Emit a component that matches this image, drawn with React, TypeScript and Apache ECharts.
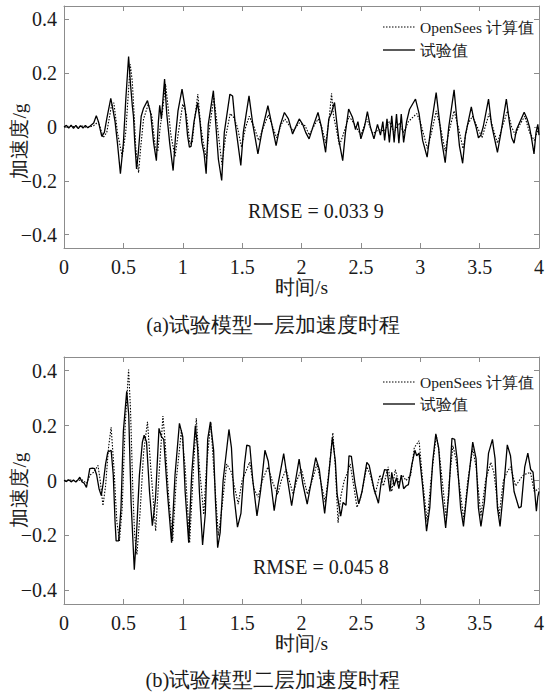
import React, { useEffect, useRef } from "react";
import * as echarts from "echarts";

// ---------- data (time s, acceleration g) ----------
const seriesNames = ["OpenSees 计算值", "试验值"];
const xTicks = [0, 0.5, 1, 1.5, 2, 2.5, 3, 3.5, 4];
const yTicks = [-0.4, -0.2, 0, 0.2, 0.4];
const rmseTexts = ["RMSE = 0.033 9", "RMSE = 0.045 8"];
const captions = ["(a)试验模型一层加速度时程", "(b)试验模型二层加速度时程"];

const floor1Test: number[][] = [
  [0, 0.0], [0.02, 0.006], [0.04, -0.004], [0.06, 0.007], [0.08, -0.005], [0.1, 0.006], [0.12, -0.006],
  [0.14, 0.005], [0.16, -0.004], [0.18, 0.006], [0.2, -0.003], [0.22, 0.004], [0.25, 0.015], [0.272, 0.042],
  [0.29, 0.02], [0.318, -0.035], [0.34, -0.02], [0.36, 0.03], [0.394, 0.106], [0.41, 0.07], [0.43, 0.02],
  [0.45, -0.06], [0.475, -0.174], [0.5, -0.06], [0.52, 0.1], [0.544, 0.262], [0.56, 0.16], [0.575, 0.08],
  [0.585, 0.04], [0.595, -0.05], [0.611, -0.156], [0.625, -0.1], [0.65, 0.04], [0.67, 0.07], [0.703, 0.098],
  [0.73, 0.05], [0.755, -0.06], [0.778, -0.125], [0.795, 0.02], [0.806, 0.081], [0.82, 0.03], [0.847, 0.178],
  [0.865, 0.05], [0.89, -0.06], [0.919, -0.162], [0.94, -0.03], [0.96, 0.06], [0.994, 0.141], [1.02, 0.07],
  [1.04, -0.03], [1.056, -0.075], [1.07, -0.072], [1.095, 0.02], [1.125, 0.091], [1.145, 0.02], [1.161, -0.057],
  [1.18, -0.1], [1.197, -0.174], [1.215, 0.01], [1.258, 0.135], [1.28, 0.0], [1.3, -0.12], [1.328, -0.199],
  [1.35, -0.02], [1.397, 0.122], [1.42, 0.115], [1.44, 0.02], [1.489, -0.143], [1.51, -0.02], [1.558, 0.116],
  [1.59, 0.01], [1.633, -0.1], [1.67, -0.01], [1.717, 0.079], [1.745, 0.02], [1.786, -0.069], [1.82, 0.005],
  [1.856, 0.054], [1.89, 0.03], [1.925, -0.026], [1.955, 0.005], [1.981, 0.03], [2.01, 0.01], [2.035, -0.02],
  [2.064, -0.044], [2.1, 0.005], [2.139, 0.054], [2.165, 0.005], [2.203, -0.094], [2.23, 0.03], [2.25, 0.05],
  [2.278, 0.091], [2.3, 0.005], [2.315, -0.05], [2.347, -0.125], [2.37, -0.02], [2.397, 0.067], [2.43, 0.035],
  [2.455, -0.01], [2.475, 0.02], [2.5, -0.044], [2.53, 0.0], [2.555, 0.057], [2.58, 0.0], [2.61, -0.044],
  [2.64, 0.01], [2.665, -0.03], [2.685, 0.02], [2.7, -0.05], [2.72, 0.03], [2.74, -0.057], [2.76, 0.042],
  [2.78, -0.057], [2.8, 0.048], [2.82, -0.06], [2.84, 0.048], [2.86, -0.057], [2.885, 0.02], [2.91, 0.066],
  [2.96, 0.104], [2.99, 0.05], [3.02, -0.05], [3.058, -0.112], [3.09, 0.0], [3.134, 0.128], [3.16, 0.03],
  [3.18, -0.05], [3.21, -0.133], [3.24, 0.0], [3.285, 0.138], [3.31, 0.02], [3.33, -0.07], [3.357, -0.135],
  [3.38, -0.03], [3.43, 0.075], [3.45, 0.03], [3.47, 0.0], [3.49, -0.04], [3.51, -0.03], [3.53, 0.0],
  [3.575, 0.104], [3.6, 0.01], [3.65, -0.094], [3.68, -0.02], [3.725, 0.104], [3.75, 0.02], [3.77, -0.04],
  [3.79, -0.06], [3.81, -0.01], [3.85, 0.03], [3.875, 0.055], [3.9, 0.03], [3.92, 0.0], [3.94, -0.05],
  [3.958, -0.1], [3.975, -0.02], [3.99, 0.01], [4.0, -0.03],
];

const floor1Sim: number[][] = [
  [0, 0.0], [0.05, 0.003], [0.1, 0.0], [0.15, 0.004], [0.2, -0.002], [0.25, 0.005], [0.29, 0.02], [0.33, -0.04],
  [0.36, -0.02], [0.4, 0.08], [0.42, 0.09], [0.45, -0.02], [0.49, -0.11], [0.52, -0.02], [0.558, 0.233],
  [0.575, 0.17], [0.59, 0.05], [0.605, -0.08], [0.628, -0.17], [0.645, -0.08], [0.67, 0.03], [0.71, 0.085],
  [0.74, 0.04], [0.77, -0.08], [0.79, -0.09], [0.81, 0.0], [0.83, 0.06], [0.855, 0.16], [0.875, 0.08],
  [0.9, -0.03], [0.935, -0.11], [0.96, -0.03], [1.0, 0.085], [1.03, 0.05], [1.06, -0.06], [1.08, -0.06],
  [1.1, 0.03], [1.127, 0.122], [1.15, 0.01], [1.17, -0.05], [1.2, -0.12], [1.22, -0.02], [1.262, 0.11],
  [1.29, 0.01], [1.33, -0.14], [1.36, -0.04], [1.4, 0.05], [1.43, 0.035], [1.46, 0.0], [1.495, -0.075],
  [1.53, 0.0], [1.56, 0.04], [1.6, 0.0], [1.64, -0.05], [1.68, 0.0], [1.72, 0.045], [1.75, 0.01], [1.79, -0.04],
  [1.83, 0.01], [1.86, 0.03], [1.89, 0.01], [1.93, -0.015], [1.98, 0.015], [2.03, 0.005], [2.065, -0.03],
  [2.1, 0.0], [2.14, 0.03], [2.17, 0.0], [2.205, -0.06], [2.235, 0.04], [2.253, 0.125], [2.27, 0.04],
  [2.29, 0.0], [2.319, -0.069], [2.35, -0.03], [2.4, 0.04], [2.44, 0.015], [2.5, -0.03], [2.55, 0.03],
  [2.6, -0.025], [2.65, -0.01], [2.7, -0.015], [2.74, 0.02], [2.78, -0.02], [2.82, 0.015], [2.86, -0.02],
  [2.9, 0.02], [2.97, 0.05], [3.0, 0.02], [3.06, -0.08], [3.09, -0.03], [3.135, 0.06], [3.17, 0.0],
  [3.21, -0.09], [3.24, -0.02], [3.285, 0.06], [3.32, 0.0], [3.36, -0.08], [3.4, 0.01], [3.44, 0.04],
  [3.48, 0.0], [3.52, -0.04], [3.58, 0.05], [3.61, 0.0], [3.65, -0.06], [3.69, 0.0], [3.735, 0.06],
  [3.77, 0.0], [3.8, -0.03], [3.84, 0.01], [3.88, 0.04], [3.92, -0.02], [3.96, -0.05], [4.0, 0.0],
];

const floor2Test: number[][] = [
  [0, 0.0], [0.02, -0.004], [0.04, 0.003], [0.06, -0.005], [0.08, 0.002], [0.1, -0.006], [0.12, 0.004],
  [0.133, 0.012], [0.15, -0.004], [0.17, -0.01], [0.189, -0.025], [0.2, 0.0], [0.217, 0.043], [0.24, 0.045],
  [0.258, 0.043], [0.275, 0.02], [0.295, -0.03], [0.314, -0.055], [0.33, -0.01], [0.35, 0.06], [0.369, 0.104],
  [0.397, 0.11], [0.415, 0.02], [0.43, -0.15], [0.439, -0.22], [0.46, -0.22], [0.48, -0.1], [0.5, 0.18],
  [0.528, 0.325], [0.545, 0.24], [0.565, -0.08], [0.592, -0.325], [0.61, -0.2], [0.635, 0.02], [0.66, 0.14],
  [0.675, 0.165], [0.695, 0.14], [0.72, -0.04], [0.744, -0.165], [0.77, -0.07], [0.8, 0.19], [0.82, 0.16],
  [0.84, 0.15], [0.87, -0.04], [0.906, -0.227], [0.935, 0.02], [0.972, 0.208], [1.0, 0.16], [1.02, -0.04],
  [1.05, -0.227], [1.075, 0.02], [1.106, 0.199], [1.125, 0.12], [1.14, -0.04], [1.167, -0.235], [1.19, -0.12],
  [1.21, 0.15], [1.233, 0.214], [1.26, 0.11], [1.275, -0.07], [1.294, -0.245], [1.315, -0.19], [1.34, 0.0],
  [1.389, 0.186], [1.41, 0.12], [1.43, -0.05], [1.461, -0.17], [1.49, -0.12], [1.52, 0.06], [1.539, 0.129],
  [1.565, 0.125], [1.59, 0.0], [1.625, -0.129], [1.655, -0.04], [1.692, 0.11], [1.72, 0.07], [1.77, -0.11],
  [1.8, -0.02], [1.85, 0.098], [1.88, 0.01], [1.917, -0.092], [1.95, 0.0], [1.98, 0.078], [2.01, -0.01],
  [2.048, -0.086], [2.08, -0.01], [2.12, 0.083], [2.15, 0.04], [2.195, -0.12], [2.225, 0.0], [2.26, 0.157],
  [2.285, 0.07], [2.3, -0.05], [2.33, -0.13], [2.35, -0.08], [2.375, -0.09], [2.4, 0.09], [2.42, 0.088],
  [2.45, -0.01], [2.482, -0.085], [2.51, -0.04], [2.55, 0.066], [2.57, 0.055], [2.61, -0.03], [2.648, -0.083],
  [2.67, -0.01], [2.7, 0.04], [2.72, 0.038], [2.745, -0.04], [2.76, 0.03], [2.78, -0.02], [2.8, 0.01],
  [2.82, -0.03], [2.84, 0.02], [2.86, -0.03], [2.88, -0.02], [2.9, -0.015], [2.93, 0.06], [2.955, 0.11],
  [2.97, 0.09], [2.99, 0.1], [3.02, -0.02], [3.053, -0.185], [3.08, -0.1], [3.105, 0.07], [3.131, 0.17],
  [3.155, 0.12], [3.18, -0.04], [3.214, -0.173], [3.24, -0.05], [3.267, 0.154], [3.29, 0.15], [3.31, 0.08],
  [3.34, -0.1], [3.364, -0.167], [3.39, -0.06], [3.442, 0.14], [3.47, 0.08], [3.49, -0.1], [3.511, -0.167],
  [3.54, -0.08], [3.575, 0.1], [3.608, 0.15], [3.63, 0.08], [3.65, -0.1], [3.672, -0.167], [3.7, -0.04],
  [3.733, 0.13], [3.76, 0.09], [3.79, -0.04], [3.831, -0.1], [3.85, -0.095], [3.88, 0.05], [3.906, 0.1],
  [3.93, 0.04], [3.95, 0.03], [3.978, -0.112], [3.99, -0.06], [4.0, -0.04],
];

const floor2Sim: number[][] = [
  [0, 0.0], [0.05, 0.002], [0.1, -0.002], [0.15, 0.003], [0.19, -0.01], [0.22, 0.02], [0.25, 0.03],
  [0.286, 0.055], [0.305, 0.0], [0.328, -0.092], [0.35, -0.02], [0.375, 0.12], [0.397, 0.194], [0.42, 0.05],
  [0.445, -0.15], [0.467, -0.22], [0.49, -0.1], [0.515, 0.2], [0.544, 0.404], [0.56, 0.26], [0.58, -0.04],
  [0.595, -0.2], [0.614, -0.27], [0.64, -0.12], [0.67, 0.1], [0.703, 0.214], [0.73, 0.05], [0.772, -0.184],
  [0.8, 0.02], [0.833, 0.235], [0.85, 0.15], [0.88, -0.05], [0.915, -0.22], [0.945, 0.0], [0.989, 0.184],
  [1.02, 0.05], [1.058, -0.227], [1.085, 0.0], [1.114, 0.227], [1.14, 0.05], [1.177, -0.124], [1.2, 0.05],
  [1.236, 0.213], [1.26, 0.05], [1.3, -0.2], [1.33, -0.1], [1.37, 0.06], [1.41, 0.03], [1.467, -0.086],
  [1.5, 0.0], [1.564, 0.067], [1.6, -0.03], [1.635, -0.061], [1.67, 0.0], [1.717, 0.049], [1.76, -0.01],
  [1.8, -0.05], [1.83, 0.0], [1.87, 0.04], [1.91, -0.02], [1.93, -0.05], [1.96, 0.0], [2.0, 0.04],
  [2.05, -0.05], [2.09, 0.0], [2.13, 0.06], [2.17, -0.02], [2.2, -0.08], [2.235, 0.05], [2.264, 0.174],
  [2.285, 0.05], [2.308, -0.154], [2.33, -0.06], [2.36, 0.0], [2.383, 0.025], [2.41, 0.06], [2.44, -0.02],
  [2.467, -0.098], [2.5, -0.06], [2.55, 0.05], [2.58, 0.02], [2.62, -0.05], [2.66, 0.02], [2.69, -0.02],
  [2.73, 0.05], [2.76, -0.04], [2.79, 0.04], [2.82, -0.01], [2.85, 0.02], [2.88, 0.0], [2.92, 0.02],
  [2.95, 0.12], [2.99, 0.145], [3.02, 0.0], [3.058, -0.15], [3.09, 0.0], [3.135, 0.165], [3.16, 0.1],
  [3.22, -0.142], [3.245, 0.0], [3.275, 0.127], [3.3, 0.08], [3.367, -0.142], [3.4, 0.0], [3.442, 0.115],
  [3.47, 0.05], [3.511, -0.13], [3.55, 0.0], [3.594, 0.066], [3.62, 0.03], [3.664, -0.13], [3.7, 0.0],
  [3.73, 0.03], [3.76, 0.05], [3.803, -0.02], [3.85, 0.01], [3.87, 0.02], [3.928, 0.03], [3.96, -0.04],
  [4.0, -0.03],
];

// ---------- styling ----------
const FONT = "Times New Roman, Liberation Serif, serif";
const AXIS_GRAY = "#8c8c8c";
const TEXT = "#1a1a1a";

const grids = [
  { left: 64, top: 6, width: 480, height: 242 },
  { left: 64, top: 357, width: 480, height: 247 },
];

function fmtY(v: number) {
  const r = Math.round(v * 10) / 10;
  if (r === 0) return "0";
  return r < 0 ? "\u2212" + String(Math.abs(r)) : String(r);
}

export default function App() {
  const ref = useRef<HTMLDivElement>(null);
  useEffect(() => {
    if (!ref.current) return;
    const chart = echarts.init(ref.current, undefined, { renderer: "svg" });

    const xAxes: any[] = [];
    const yAxes: any[] = [];
    grids.forEach((_, gi) => {
      const baseX = {
        type: "value",
        gridIndex: gi,
        min: 0,
        max: 4,
        interval: 0.5,
        splitLine: { show: false },
        axisLine: { onZero: false, lineStyle: { color: AXIS_GRAY, width: 1 } },
        axisTick: { inside: true, length: 5, lineStyle: { color: AXIS_GRAY } },
      };
      xAxes.push({
        ...baseX,
        position: "bottom",
        name: "时间/s",
        nameLocation: "middle",
        nameGap: 29,
        nameTextStyle: { fontFamily: FONT, fontSize: 19.5, color: TEXT },
        axisLabel: {
          fontFamily: FONT,
          fontSize: 20,
          color: TEXT,
          margin: 9,
          customValues: xTicks,
          formatter: (v: number) => String(v),
        },
      });
      xAxes.push({ ...baseX, position: "top", axisLabel: { show: false } });
      const baseY = {
        type: "value",
        gridIndex: gi,
        min: -0.45,
        max: 0.45,
        splitLine: { show: false },
        axisLine: { onZero: false, lineStyle: { color: AXIS_GRAY, width: 1 } },
        axisTick: { inside: true, length: 5, customValues: yTicks, lineStyle: { color: AXIS_GRAY } },
      };
      yAxes.push({
        ...baseY,
        position: "left",
        axisLabel: {
          fontFamily: FONT,
          fontSize: 20,
          color: TEXT,
          margin: 7,
          customValues: yTicks,
          formatter: fmtY,
        },
      });
      yAxes.push({ ...baseY, position: "right", axisLabel: { show: false } });
    });

    const mk = (name: string, data: number[][], gi: number, dotted: boolean) => ({
      type: "line",
      name,
      data,
      xAxisIndex: gi * 2,
      yAxisIndex: gi * 2,
      symbol: "none",
      showSymbol: false,
      smooth: false,
      lineStyle: {
        color: "#000",
        width: dotted ? 1.1 : 1.3,
        type: dotted ? [1.5, 1.5] : "solid",
      },
      itemStyle: { color: "#000" },
      emphasis: { disabled: true },
    });

    const series = [
      mk(seriesNames[0], floor1Sim, 0, true),
      mk(seriesNames[1], floor1Test, 0, false),
      mk(seriesNames[0], floor2Sim, 1, true),
      mk(seriesNames[1], floor2Test, 1, false),
    ];

    const graphic: any[] = [];
    const yNameCenters = [141, 490];
    const rmsePos = [
      [248, 211],
      [253, 567],
    ];
    const captionY = [325, 680];
    const legendRows = [
      [27, 50],
      [382, 404],
    ];
    [0, 1].forEach((gi) => {
      graphic.push({
        type: "text",
        x: 19,
        y: yNameCenters[gi],
        rotation: Math.PI / 2,
        style: {
          text: "加速度/g",
          font: `19.5px ${FONT}`,
          fill: TEXT,
          align: "center",
          verticalAlign: "middle",
        },
      });
      graphic.push({
        type: "text",
        x: rmsePos[gi][0],
        y: rmsePos[gi][1],
        style: {
          text: rmseTexts[gi],
          font: `20px ${FONT}`,
          fill: TEXT,
          align: "left",
          verticalAlign: "middle",
        },
      });
      graphic.push({
        type: "text",
        x: 273,
        y: captionY[gi],
        style: {
          text: captions[gi],
          font: `20.5px ${FONT}`,
          fill: TEXT,
          align: "center",
          verticalAlign: "middle",
        },
      });
      // legend
      seriesNames.forEach((nm, k) => {
        const y = legendRows[gi][k];
        graphic.push({
          type: "line",
          shape: { x1: 383, y1: y, x2: 415, y2: y },
          style: {
            stroke: "#000",
            lineWidth: k === 0 ? 1.1 : 1.3,
            lineDash: k === 0 ? [1.5, 1.5] : null,
          },
        });
        graphic.push({
          type: "text",
          x: 420,
          y,
          style: {
            text: nm,
            font: `15.5px ${FONT}`,
            fill: TEXT,
            align: "left",
            verticalAlign: "middle",
          },
        });
      });
    });

    chart.setOption({
      animation: false,
      backgroundColor: "#fff",
      grid: grids.map((g) => ({ ...g, containLabel: false })),
      xAxis: xAxes,
      yAxis: yAxes,
      series,
      graphic,
    });
    return () => chart.dispose();
  }, []);
  return (
    <div
      ref={ref}
      style={{ position: "fixed", left: 0, top: 0, width: 547, height: 694, background: "#fff" }}
    />
  );
}
